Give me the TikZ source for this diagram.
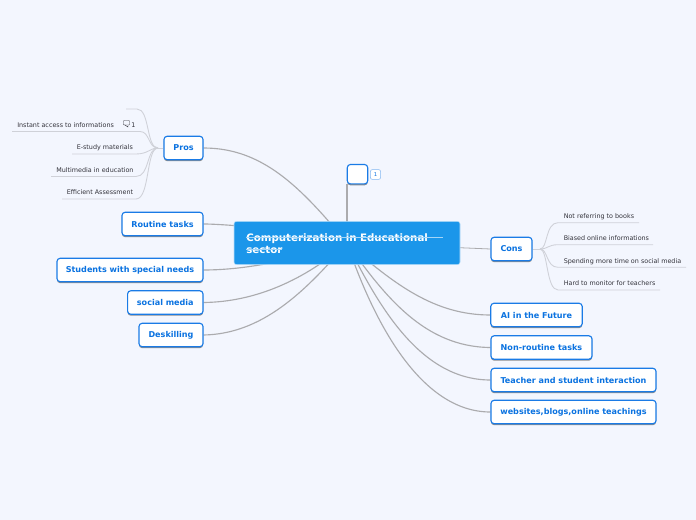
\documentclass[tikz,border=0pt]{standalone}
\usepackage{fontspec}
\setmainfont{DejaVu Sans}
\usetikzlibrary{shadows,backgrounds}
\definecolor{bgc}{HTML}{F3F6FE}
\definecolor{nodeb}{HTML}{1A7BE6}
\definecolor{nodet}{HTML}{0A72E0}
\definecolor{hubc}{HTML}{1B96EA}
\definecolor{mainl}{HTML}{ABABAE}
\definecolor{subl}{HTML}{CFD1D8}
\definecolor{subt}{HTML}{34343C}
\tikzset{
 x=0.75pt,y=-0.75pt,
 topic/.style={draw=nodeb,fill=white,line width=0.85pt,rounded corners=2.4pt,text=nodet,
   font=\fontsize{6.05pt}{8pt}\selectfont\bfseries,inner sep=0pt,minimum height=17.6pt,
   copy shadow={shadow xshift=0pt,shadow yshift=-1.1pt,draw=none,fill=black!55,opacity=.8}},
 hub/.style={fill=hubc,draw=white!70!hubc,line width=0.4pt,rounded corners=1.8pt,text=white,inner sep=0pt,
   minimum width=169.5pt,minimum height=32.4pt},
 sub/.style={text=subt,font=\fontsize{4.8pt}{6pt}\selectfont,inner sep=0pt,anchor=base west},
 mainc/.style={draw=mainl,line width=0.85pt},
 subc/.style={draw=subl,line width=0.65pt},
 strike/.style={draw=white!60!hubc,line width=0.5pt}
}
\begin{document}
\begin{tikzpicture}
\useasboundingbox (0,0) rectangle (696,520);
% hub and topics
\node[hub] (hubn) at (347,243) {};
\node[text=white,font=\fontsize{7.7pt}{9.2pt}\selectfont\bfseries,align=left,anchor=north west,inner sep=0pt,text width=160pt] (hubt) at (246,233) {Computerization in Educational\\sector};
\node[topic,minimum width=15.3pt,minimum height=14.6pt] (blank) at (357.5,174.2) {};
\node[draw=nodeb!55,fill=white,rounded corners=1.5pt,line width=.4pt,minimum width=7.6pt,minimum height=7.4pt,inner sep=0pt,text=nodet,font=\fontsize{4pt}{5pt}\selectfont] (badge) at (375.5,174.5) {1};
\node[topic,minimum width=29.3pt] (pros) at (183.5,148) {Pros};
\node[topic,minimum width=60.8pt] (routine) at (162.5,224) {Routine tasks};
\node[topic,minimum width=109.5pt] (students) at (130,270) {Students with special needs};
\node[topic,minimum width=56.6pt] (social) at (165.3,302.5) {social media};
\node[topic,minimum width=48pt] (desk) at (171,335) {Deskilling};
\node[topic,minimum width=30.8pt] (cons) at (511.5,249) {Cons};
\node[topic,minimum width=68.6pt] (ai) at (536.5,315) {AI in the Future};
\node[topic,minimum width=75.8pt] (nonr) at (541.5,347.5) {Non-routine tasks};
\node[topic,minimum width=123.8pt] (teach) at (573.5,380) {Teacher and student interaction};
\node[topic,minimum width=123.8pt] (web) at (573.5,412) {websites,blogs,online teachings};
% strike-through of the central title
\coordinate (s1a) at (246,237.3); \coordinate (s1b) at (443,237.3);
\coordinate (s2a) at (246,249.5); \coordinate (s2b) at (282,249.5);
\draw[strike] (s1a) -- (s1b);
\draw[strike] (s2a) -- (s2b);
% sub topics, left
\coordinate (pj) at (158,148);
\coordinate (l0) at (126,109); \coordinate (l0b) at (137,109);
\node[sub] (t1) at (17,127.5) {Instant access to informations};
\coordinate (l1) at (12,131.5); \coordinate (l1b) at (140,131.5);
\node[sub] (t2) at (76.5,150) {E-study materials};
\coordinate (l2) at (72,154); \coordinate (l2b) at (136,154);
\node[sub] (t3) at (56,172.5) {Multimedia in education};
\coordinate (l3) at (51,176.5); \coordinate (l3b) at (136,176.5);
\node[sub] (t4) at (66.5,195) {Efficient Assessment};
\coordinate (l4) at (62,199); \coordinate (l4b) at (136,199);
\node[sub] (n1) at (131,127.3) {1};
% comment icon
\coordinate (ic) at (126,123);
\draw[draw=subt,line width=.35pt,rounded corners=.5pt] (123.5,120.5) rectangle (129.5,125) ;
\draw[draw=subt,fill=bgc,line width=.35pt] (125,125) -- (128,127) -- (128,125);
% sub topics, right
\coordinate (cj) at (540,249);
\node[sub] (r1) at (563.5,218.7) {Not referring to books};
\coordinate (r1a) at (558,222.7); \coordinate (r1b) at (639,222.7);
\node[sub] (r2) at (563.5,240.7) {Biased online informations};
\coordinate (r2a) at (558,244.7); \coordinate (r2b) at (653,244.7);
\node[sub] (r3) at (563.5,263.5) {Spending more time on social media};
\coordinate (r3a) at (558,267.3); \coordinate (r3b) at (686,267.3);
\node[sub] (r4) at (563.5,285.7) {Hard to monitor for teachers};
\coordinate (r4a) at (558,290); \coordinate (r4b) at (660,290);
\begin{scope}[on background layer]
\fill[bgc] (0,0) rectangle (696,520);
\draw[mainc] (pros.east) .. controls (262,148) and (300,186) .. (hubn.center);
\draw[mainc] (routine.east) .. controls (225,224) and (300,230) .. (hubn.center);
\draw[mainc] (students.east) .. controls (250,270) and (300,258) .. (hubn.center);
\draw[mainc] (social.east) .. controls (255,302) and (305,280) .. (hubn.center);
\draw[mainc] (desk.east) .. controls (262,334) and (305,292) .. (hubn.center);
\draw[mainc] (hubn.center) .. controls (395,285) and (435,315) .. (ai.west);
\draw[mainc] (hubn.center) .. controls (385,297) and (425,347) .. (nonr.west);
\draw[mainc] (hubn.center) .. controls (378,305) and (420,380) .. (teach.west);
\draw[mainc] (hubn.center) .. controls (373,320) and (420,412) .. (web.west);
\draw[mainc,line width=.6pt] (hubn.center) -- (cons.west);
\draw[mainc,line width=1.2pt] (hubn.center |- blank.south) -- (hubn.center);
\draw[subc] (pros.west) -- (pj);
\draw[subc] (l0) -- (l0b) .. controls (150,109) and (146,148) .. (pj);
\draw[subc] (l1) -- (l1b) .. controls (150,131.5) and (148,148) .. (pj);
\draw[subc] (l2) -- (l2b) .. controls (148,154) and (150,148) .. (pj);
\draw[subc] (l3) -- (l3b) .. controls (150,176.5) and (146,148) .. (pj);
\draw[subc] (l4) -- (l4b) .. controls (150,199) and (146,148) .. (pj);
\draw[subc] (cons.east) -- (cj);
\draw[subc] (cj) .. controls (548,249) and (545,222.7) .. (r1a) -- (r1b);
\draw[subc] (cj) .. controls (548,249) and (548,244.7) .. (r2a) -- (r2b);
\draw[subc] (cj) .. controls (548,249) and (546,267.3) .. (r3a) -- (r3b);
\draw[subc] (cj) .. controls (548,249) and (546,290) .. (r4a) -- (r4b);
\end{scope}
\end{tikzpicture}
\end{document}
